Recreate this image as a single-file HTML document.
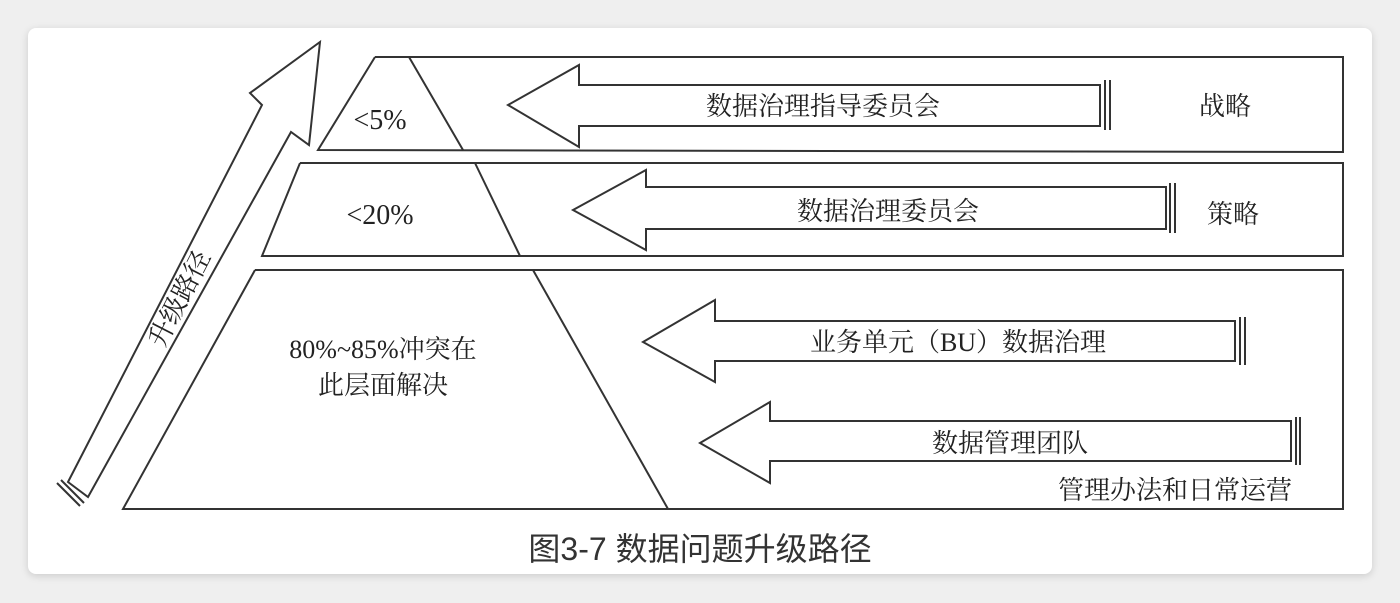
<!DOCTYPE html>
<html><head><meta charset="utf-8"><style>
html,body{margin:0;padding:0;background:#efefef;}
body{width:1400px;height:603px;position:relative;overflow:hidden;}
.card{position:absolute;left:28px;top:28px;width:1344px;height:546px;background:#fff;border-radius:8px;box-shadow:0 2px 8px rgba(0,0,0,0.15);}
svg{position:absolute;left:0;top:0;}
text{font-family:"Liberation Serif","Noto Serif CJK SC",serif;fill:#222;}
</style></head><body>
<div class="card"></div>
<svg width="1400" height="603" viewBox="0 0 1400 603">
<g fill="none" stroke="#333" stroke-width="2">
<polyline points="375,57 1343,57 1343,152 318,150 375,57"/>
<line x1="409" y1="57" x2="463" y2="150"/>
<polyline points="300,163 1343,163 1343,256 262,256 300,163"/>
<line x1="475" y1="163" x2="520" y2="256"/>
<polyline points="255,270 1343,270 1343,509 123,509 255,270"/>
<line x1="533" y1="270" x2="668" y2="509"/>
<polygon points="320,42 309,145 291,132 88,497 68,482 262,105 250,93"/>
<line x1="57" y1="483" x2="80" y2="506"/>
<line x1="61" y1="480" x2="84" y2="503"/>
<polygon points="508,105 579,65 579,85 1100,85 1100,126 579,126 579,147"/>
<line x1="1105" y1="80" x2="1105" y2="130"/><line x1="1110" y1="80" x2="1110" y2="130"/>
<polygon points="573,210 646,170 646,187 1166,187 1166,229 646,229 646,250"/>
<line x1="1170" y1="183" x2="1170" y2="233"/><line x1="1175" y1="183" x2="1175" y2="233"/>
<polygon points="643,342 715,300 715,321 1235,321 1235,361 715,361 715,382"/>
<line x1="1240" y1="317" x2="1240" y2="365"/><line x1="1245" y1="317" x2="1245" y2="365"/>
<polygon points="700,443 770,402 770,421 1291,421 1291,461 770,461 770,483"/>
<line x1="1296" y1="417" x2="1296" y2="465"/><line x1="1300" y1="417" x2="1300" y2="465"/>
</g>
<g font-size="26" text-anchor="middle">
<text x="380" y="129" font-size="28">&lt;5%</text>
<text x="380" y="224" font-size="28">&lt;20%</text>
<text x="383" y="358">80%~85%冲突在</text>
<text x="383" y="394">此层面解决</text>
<text x="823" y="115">数据治理指导委员会</text>
<text x="888" y="220">数据治理委员会</text>
<text x="958" y="351">业务单元（BU）数据治理</text>
<text x="1010" y="452">数据管理团队</text>
<text x="1225" y="115">战略</text>
<text x="1233" y="223">策略</text>
<text x="1175" y="499">管理办法和日常运营</text>
<text x="0" y="0" transform="translate(182,300) rotate(-62.8)" dominant-baseline="middle">升级路径</text>
</g>
<text x="700" y="560" font-size="32" text-anchor="middle" style="font-family:'Liberation Sans','Noto Sans CJK SC',sans-serif;fill:#333">图3-7 数据问题升级路径</text>
</svg>
</body></html>
